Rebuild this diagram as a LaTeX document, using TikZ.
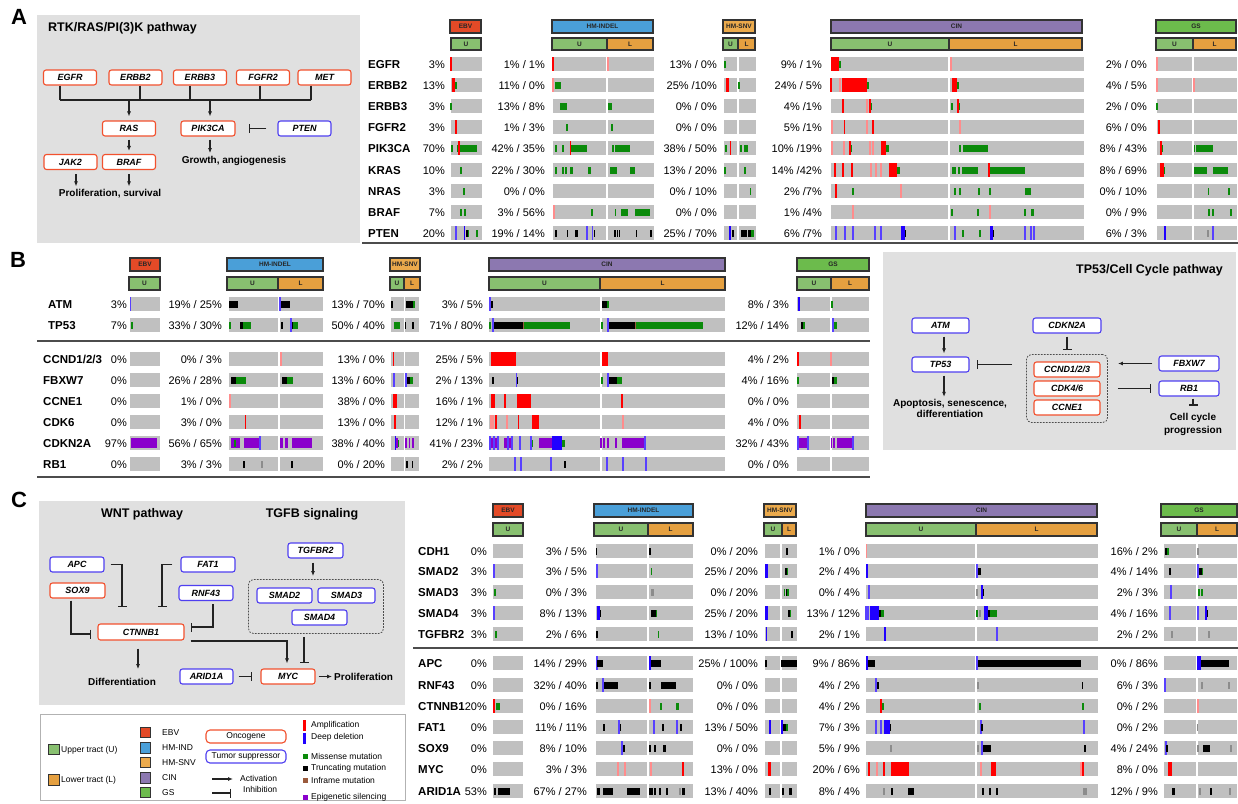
\documentclass[tikz,border=0pt]{standalone}
\usepackage{fontspec}
\setmainfont{Liberation Sans}
\usetikzlibrary{arrows.meta,fit}
\definecolor{graybg}{HTML}{E0E0E0}
\definecolor{barc}{HTML}{C0C0C0}
\definecolor{cebv}{HTML}{E34A27}
\definecolor{cind}{HTML}{4A9FD8}
\definecolor{csnv}{HTML}{EBAA4C}
\definecolor{ccin}{HTML}{8C78B0}
\definecolor{cgs}{HTML}{6CBB4C}
\definecolor{cU}{HTML}{88C070}
\definecolor{cL}{HTML}{E5A040}
\definecolor{oncc}{HTML}{F2512E}
\definecolor{supc}{HTML}{4F3FF0}
\definecolor{mred}{HTML}{FF0000}
\definecolor{mblue}{HTML}{2000FF}
\definecolor{mgreen}{HTML}{0A8A0A}
\definecolor{mpurple}{HTML}{8A00CC}
\definecolor{mbrown}{HTML}{9B5A3C}
\definecolor{linec}{HTML}{222222}
\definecolor{hdrl}{HTML}{333333}
\newcommand\fGene{\fontsize{11.5}{13}\selectfont\bfseries}
\newcommand\fPct{\fontsize{11}{13}\selectfont}
\newcommand\fBox{\fontsize{9}{10}\selectfont\bfseries\itshape}
\newcommand\fTitle{\fontsize{12.5}{14}\selectfont\bfseries}
\newcommand\fOut{\fontsize{10}{11.5}\selectfont\bfseries}
\newcommand\fHdr{\fontsize{6.5}{7}\selectfont\bfseries}
\newcommand\fLeg{\fontsize{8.5}{10}\selectfont}
\newcommand\fLet{\fontsize{22}{24}\selectfont\bfseries}
% bars and marks
\newcommand\gb[3]{\fill[barc] (#1,#3-7) rectangle (#2,#3+7);}
\newcommand\xR[3]{\fill[mred] (#1,#3-7) rectangle (#2,#3+7);}
\newcommand\xB[3]{\fill[mblue] (#1,#3-7) rectangle (#2,#3+7);}
\newcommand\xG[3]{\fill[mgreen] (#1,#3-3.5) rectangle (#2,#3+3.5);}
\newcommand\xK[3]{\fill[black] (#1,#3-3.5) rectangle (#2,#3+3.5);}
\newcommand\xN[3]{\fill[mbrown] (#1,#3-3.5) rectangle (#2,#3+3.5);}
\newcommand\xP[3]{\fill[mpurple] (#1,#3-5) rectangle (#2,#3+5);}
\newcommand\yR[2]{\fill[mred] (#1-0.7,#2-7) rectangle (#1+0.7,#2+7);}
\newcommand\yRf[2]{\fill[mred!45] (#1-0.7,#2-7) rectangle (#1+0.7,#2+7);}
\newcommand\yB[2]{\fill[mblue!75] (#1-0.6,#2-7) rectangle (#1+0.6,#2+7);}
\newcommand\yG[2]{\fill[mgreen] (#1-0.7,#2-3.5) rectangle (#1+0.7,#2+3.5);}
\newcommand\yK[2]{\fill[black] (#1-0.7,#2-3.5) rectangle (#1+0.7,#2+3.5);}
\newcommand\yP[2]{\fill[mpurple] (#1-0.8,#2-5) rectangle (#1+0.8,#2+5);}
\newcommand\yY[2]{\fill[gray!90] (#1-0.6,#2-3.5) rectangle (#1+0.6,#2+3.5);}
\newcommand\hdr[7]{\draw[hdrline, fill=#5] (#1,#3) rectangle (#2,#4); \node[hdrtxt] (#7) at ({(#1+#2)/2},{(#3+#4)/2}) {#6};}
\newcommand\rowA[7]{%
\node[gene] (gA#1) at (368,#1) {#2};
\node[pct] (eA#1) at (445,#1) {#3};
\node[pct] (iA#1) at (545,#1) {#4};
\node[pct] (sA#1) at (717,#1) {#5};
\node[pct] (cA#1) at (822,#1) {#6};
\node[pct] (qA#1) at (1147,#1) {#7};
\gb{451}{482}{#1}\gb{553}{606}{#1}\gb{608}{654}{#1}\gb{724}{737}{#1}\gb{739}{756}{#1}\gb{831}{948}{#1}\gb{950}{1084}{#1}\gb{1157}{1192}{#1}\gb{1194}{1237}{#1}}
\newcommand\rowB[8]{%
\node[gene] (gB#2) at (#1,#2) {#3};
\node[pct] (eB#2) at (127,#2) {#4};
\node[pct] (iB#2) at (222,#2) {#5};
\node[pct] (sB#2) at (385,#2) {#6};
\node[pct] (cB#2) at (483,#2) {#7};
\node[pct] (qB#2) at (789,#2) {#8};
\gb{130}{160}{#2}\gb{229}{278}{#2}\gb{280}{323}{#2}\gb{391}{404}{#2}\gb{405}{419}{#2}\gb{489}{600}{#2}\gb{602}{725}{#2}\gb{797}{830}{#2}\gb{832}{869}{#2}}
\newcommand\rowC[7]{%
\node[gene] (gC#1) at (418,#1) {#2};
\node[pct] (eC#1) at (487,#1) {#3};
\node[pct] (iC#1) at (587,#1) {#4};
\node[pct] (sC#1) at (758,#1) {#5};
\node[pct] (cC#1) at (860,#1) {#6};
\node[pct] (qC#1) at (1158,#1) {#7};
\gb{493}{523}{#1}\gb{596}{647}{#1}\gb{649}{693}{#1}\gb{765}{780}{#1}\gb{782}{797}{#1}\gb{866}{975}{#1}\gb{977}{1098}{#1}\gb{1164}{1196}{#1}\gb{1198}{1237}{#1}}
\tikzset{
 gene/.style={font=\fGene, anchor=west, inner sep=0pt, text height=8pt, text depth=0pt},
 pct/.style={font=\fPct, anchor=east, inner sep=0pt, text height=8pt, text depth=0pt},
 hdrline/.style={draw=hdrl, line width=1.1pt},
 hdrtxt/.style={font=\fHdr, text=black!85, inner sep=0pt},
 onc/.style={draw=oncc, line width=1.1pt, rounded corners=2.5pt, fill=white, minimum width=53pt, minimum height=15pt, inner sep=0pt, font=\fBox},
 sup/.style={onc, draw=supc},
 outt/.style={font=\fOut, inner sep=0pt},
 ln/.style={draw=linec, line width=1.1pt},
 arr/.style={ln, -{Latex[length=5pt,width=4pt]}},
 inh/.style={ln, -{Bar[width=9pt,line width=1.1pt]}},
 dbox/.style={draw=black!70, dash pattern=on 1.6pt off 1.4pt, rounded corners=5pt, line width=0.8pt, inner sep=7pt},
 sepl/.style={draw=black!70, line width=1.4pt},
 swatch/.style={draw=black!80, line width=0.8pt, minimum size=10.5pt, inner sep=0pt},
 legt/.style={font=\fLeg, anchor=west, inner sep=0pt},
 lgbox/.style={line width=1.1pt, rounded corners=4pt, minimum width=80pt, minimum height=13pt, inner sep=0pt, font=\fLeg}
}
\begin{document}
\begin{tikzpicture}[x=1pt,y=-1pt]
\useasboundingbox (0,0) rectangle (1238,803);
\fill[white] (0,0) rectangle (1238,803);
% ---------- letters
\node[font=\fLet] (lA) at (19,17) {A};
\node[font=\fLet] (lB) at (18,260) {B};
\node[font=\fLet] (lC) at (19,500) {C};
% ---------- Panel A pathway
\fill[graybg] (37,15) rectangle (360,243);
\node[anchor=west, font=\fTitle, inner sep=0pt] (titleA) at (48,28) {RTK/RAS/PI(3)K pathway};
\node[onc] (egfr) at (70,77.5) {EGFR};
\node[onc] (erbb2) at (135.5,77.5) {ERBB2};
\node[onc] (erbb3) at (200,77.5) {ERBB3};
\node[onc] (fgfr2) at (263,77.5) {FGFR2};
\node[onc] (met) at (324.5,77.5) {MET};
\node[onc] (ras) at (129,128.5) {RAS};
\node[onc, minimum width=54pt] (pik3ca) at (208,128.5) {PIK3CA};
\node[sup] (pten) at (304.5,128.5) {PTEN};
\node[onc] (jak2) at (70.5,162) {JAK2};
\node[onc] (braf) at (129,162) {BRAF};
\node[outt] (prolA) at (110,194) {Proliferation, survival};
\node[outt] (growA) at (234,161) {Growth, angiogenesis};
\coordinate (busL) at (60,100);
\coordinate (busR) at (311,100);
\draw[ln] (busL) -- (busR);
\draw[ln] ([xshift=-10pt]egfr.south) -- ([xshift=-10pt]egfr.south |- busL);
\draw[ln] ([xshift=4.5pt]erbb2.south) -- ([xshift=4.5pt]erbb2.south |- busL);
\draw[ln] ([xshift=-10pt]erbb3.south) -- ([xshift=-10pt]erbb3.south |- busL);
\draw[ln] ([xshift=-3pt]fgfr2.south) -- ([xshift=-3pt]fgfr2.south |- busL);
\draw[ln] ([xshift=-13.5pt]met.south) -- ([xshift=-13.5pt]met.south |- busL);
\draw[arr] (ras.north |- busL) -- ([yshift=4pt]ras.north);
\draw[arr] ([xshift=2pt]pik3ca.north |- busL) -- ([xshift=2pt,yshift=4pt]pik3ca.north);
\draw[inh] ([xshift=-11pt]pten.west) -- ([xshift=13pt]pik3ca.east);
\draw[arr] ([yshift=-3pt]ras.south) -- ([yshift=3pt]braf.north);
\draw[arr, shorten >=3pt] ([xshift=5.5pt,yshift=-4pt]jak2.south) -- ([xshift=5.5pt]jak2.south |- prolA.north);
\draw[arr, shorten >=3pt] ([yshift=-4pt]braf.south) -- (braf.south |- prolA.north);
\draw[arr, shorten >=3pt] ([xshift=2pt,yshift=-3pt]pik3ca.south) -- ([xshift=2pt]pik3ca.south |- growA.north);
% ---------- Panel A heatmap
\hdr{450}{481}{20}{33}{cebv}{EBV}{hAe}
\hdr{451}{481}{38}{50}{cU}{U}{hAeU}
\hdr{552}{653}{20}{33}{cind}{HM-INDEL}{hAi}
\hdr{552}{607}{38}{50}{cU}{U}{hAiU}
\hdr{607}{653}{38}{50}{cL}{L}{hAiL}
\hdr{723}{755}{20}{33}{csnv}{HM-SNV}{hAs}
\hdr{723}{738}{38}{50}{cU}{U}{hAsU}
\hdr{738}{755}{38}{50}{cL}{L}{hAsL}
\hdr{831}{1082}{20}{33}{ccin}{CIN}{hAc}
\hdr{831}{949}{38}{50}{cU}{U}{hAcU}
\hdr{949}{1082}{38}{50}{cL}{L}{hAcL}
\hdr{1156}{1236}{20}{33}{cgs}{GS}{hAg}
\hdr{1156}{1193}{38}{50}{cU}{U}{hAgU}
\hdr{1193}{1236}{38}{50}{cL}{L}{hAgL}
\rowA{64}{EGFR}{3\%}{1\% / 1\%}{13\% / 0\%}{9\% / 1\%}{2\% / 0\%}
\rowA{85}{ERBB2}{13\%}{11\% / 0\%}{25\% /10\%}{24\% / 5\%}{4\% / 5\%}
\rowA{106}{ERBB3}{3\%}{13\% / 8\%}{0\% / 0\%}{4\% /1\%}{2\% / 0\%}
\rowA{127}{FGFR2}{3\%}{1\% / 3\%}{0\% / 0\%}{5\% /1\%}{6\% / 0\%}
\rowA{148}{PIK3CA}{70\%}{42\% / 35\%}{38\% / 50\%}{10\% /19\%}{8\% / 43\%}
\rowA{170}{KRAS}{10\%}{22\% / 30\%}{13\% / 20\%}{14\% /42\%}{8\% / 69\%}
\rowA{191}{NRAS}{3\%}{0\% / 0\%}{0\% / 10\%}{2\% /7\%}{0\% / 10\%}
\rowA{212}{BRAF}{7\%}{3\% / 56\%}{0\% / 0\%}{1\% /4\%}{0\% / 9\%}
\rowA{233}{PTEN}{20\%}{19\% / 14\%}{25\% / 70\%}{6\% /7\%}{6\% / 3\%}
% marks A
\yR{451}{64}\yR{553}{64}\yRf{608}{64}\yG{725}{64}\xR{831}{839}{64}\xG{839}{841}{64}\yRf{951}{64}\yRf{1157}{64}
\xR{452}{455}{85}\xG{455}{457}{85}\yRf{553}{85}\xG{555}{561}{85}\xR{726}{729}{85}\yG{739}{85}\yR{831}{85}\yRf{840}{85}\xR{842}{867}{85}\xG{867}{869}{85}\xR{952}{957}{85}\xG{957}{958.5}{85}\yRf{1157}{85}\yRf{1194}{85}
\yG{451}{106}\xG{560}{567}{106}\xG{608}{612}{106}\xR{842}{844}{106}\yRf{867}{106}\yR{870}{106}\yG{871.5}{106}\yG{952}{106}\yR{958}{106}\yG{959.5}{106}\yG{1157}{106}
\yR{456}{127}\yG{567}{127}\yG{612}{127}\yRf{832}{127}\xR{843.5}{845}{127}\yRf{867}{127}\xR{872}{874}{127}\yRf{960}{127}\xR{1158}{1160}{127}
\yG{452}{148}\xG{457}{477}{148}\yR{459}{148}\yG{556}{148}\yG{563}{148}\xG{570}{587}{148}\xR{569.5}{571}{148}\yG{613}{148}\xG{615}{630}{148}\xG{725}{727}{148}\xR{729.5}{731}{148}\xG{740}{741.5}{148}\xG{744}{748}{148}\yRf{832}{148}\yRf{844}{148}\yR{850}{148}\yG{851.5}{148}\yRf{870}{148}\yRf{873}{148}\xR{881}{886}{148}\xG{886}{889}{148}\yG{960}{148}\xG{963}{988}{148}\yR{1161}{148}\yG{1162.5}{148}\yG{1194.5}{148}\xG{1196}{1213}{148}
\xG{460}{462}{170}\yG{556}{170}\yG{563}{170}\yG{566}{170}\xG{570}{573}{170}\xG{588}{591}{170}\xG{610}{617}{170}\xG{630}{635}{170}\yG{725}{170}\xG{744}{746}{170}\yR{835}{170}\xR{842}{844}{170}\yR{852}{170}\yRf{871}{170}\yRf{876}{170}\yRf{881}{170}\xR{889}{897}{170}\xG{897}{900}{170}\yG{953}{170}\yG{955}{170}\yG{959}{170}\xG{962}{978}{170}\xG{990}{1025}{170}\xR{988}{990}{170}\yR{1161}{170}\yR{1163}{170}\yG{1164.5}{170}\xG{1194}{1207}{170}\xG{1213}{1228}{170}
\yG{464}{191}\xG{749.5}{751}{191}\yR{836}{191}\yG{853}{191}\yRf{901}{191}\yG{955}{191}\yG{960}{191}\xG{978}{979.5}{191}\yG{990}{191}\xG{1025}{1031}{191}\xG{1207.5}{1209}{191}\xG{1228}{1230}{191}
\yG{461}{212}\yG{465}{212}\yRf{554}{212}\yG{592}{212}\xG{614.5}{616}{212}\xG{621}{628}{212}\xG{635}{650}{212}\yRf{853}{212}\yG{952}{212}\yG{978}{212}\yRf{990}{212}\yG{1025}{212}\xG{1031}{1034}{212}\yG{1209}{212}\yG{1213}{212}\yG{1231}{212}
\yB{456}{233}\xB{463.5}{465}{233}\xK{466}{468}{233}\xG{468}{469}{233}\yG{477}{233}\yK{556}{233}\xK{566.5}{568}{233}\xK{575}{578}{233}\yB{587}{233}\yB{592.5}{233}\yK{594.5}{233}\xK{614}{616}{233}\xK{617}{618}{233}\xK{619}{620}{233}\xK{636}{637}{233}\xK{650}{651.5}{233}\xB{729}{731}{233}\yK{733}{233}\xK{741}{747}{233}\xK{748}{751}{233}\xG{751}{754}{233}\yB{836}{233}\yB{845}{233}\yB{853}{233}\yB{875}{233}\yB{881}{233}\xB{901}{905}{233}\yK{905.5}{233}\yB{955}{233}\yG{963}{233}\yG{980}{233}\xB{990}{993}{233}\yK{993.5}{233}\yB{1025}{233}\yB{1031}{233}\yB{1034}{233}\xB{1164}{1166}{233}\yY{1208}{233}\yB{1213}{233}
\draw[sepl] (362,243) -- (1238,243);
% ---------- Panel B heatmap
\hdr{130}{160}{258}{271}{cebv}{EBV}{hBe}
\hdr{129}{160}{277}{290}{cU}{U}{hBeU}
\hdr{227}{323}{258}{271}{cind}{HM-INDEL}{hBi}
\hdr{227}{278}{277}{290}{cU}{U}{hBiU}
\hdr{278}{323}{277}{290}{cL}{L}{hBiL}
\hdr{390}{420}{258}{271}{csnv}{HM-SNV}{hBs}
\hdr{390}{404}{277}{290}{cU}{U}{hBsU}
\hdr{404}{420}{277}{290}{cL}{L}{hBsL}
\hdr{489}{725}{258}{271}{ccin}{CIN}{hBc}
\hdr{489}{600}{277}{290}{cU}{U}{hBcU}
\hdr{600}{725}{277}{290}{cL}{L}{hBcL}
\hdr{797}{869}{258}{271}{cgs}{GS}{hBg}
\hdr{797}{831}{277}{290}{cU}{U}{hBgU}
\hdr{831}{869}{277}{290}{cL}{L}{hBgL}
\rowB{48}{304}{ATM}{3\%}{19\% / 25\%}{13\% / 70\%}{3\% / 5\%}{8\% / 3\%}
\rowB{48}{325}{TP53}{7\%}{33\% / 30\%}{50\% / 40\%}{71\% / 80\%}{12\% / 14\%}
\rowB{43}{359}{CCND1/2/3}{0\%}{0\% / 3\%}{13\% / 0\%}{25\% / 5\%}{4\% / 2\%}
\rowB{43}{380}{FBXW7}{0\%}{26\% / 28\%}{13\% / 60\%}{2\% / 13\%}{4\% / 16\%}
\rowB{43}{401}{CCNE1}{0\%}{1\% / 0\%}{38\% / 0\%}{16\% / 1\%}{0\% / 0\%}
\rowB{43}{422}{CDK6}{0\%}{3\% / 0\%}{13\% / 0\%}{12\% / 1\%}{4\% / 0\%}
\rowB{43}{443}{CDKN2A}{97\%}{56\% / 65\%}{38\% / 40\%}{41\% / 23\%}{32\% / 43\%}
\rowB{43}{464}{RB1}{0\%}{3\% / 3\%}{0\% / 20\%}{2\% / 2\%}{0\% / 0\%}
% marks B
\yB{130.5}{304}\xK{229}{238}{304}\yB{280}{304}\xK{281}{290}{304}\yK{392}{304}\xK{406}{413}{304}\yG{414}{304}\yB{490}{304}\xK{491}{493}{304}\xK{602}{607}{304}\xG{607}{608.5}{304}\xB{798}{800}{304}\yG{832}{304}
\xG{131}{133}{325}\yG{230}{325}\xK{240}{243}{325}\xG{243}{251}{325}\xK{281}{283}{325}\xG{293}{298}{325}\yB{291}{325}\xK{291.5}{293}{325}\xG{394}{400}{325}\xK{404.5}{406}{325}\yK{413}{325}\yG{490}{325}\xK{493}{523}{325}\xN{523}{524}{325}\xG{524}{570}{325}\yB{493}{325}\yG{602}{325}\xK{608}{635}{325}\xN{635}{636}{325}\xG{636}{703}{325}\yB{608}{325}\xK{801}{803}{325}\xG{803}{805}{325}\yB{833}{325}\xG{833.5}{837}{325}
\yRf{281}{359}\xR{392.5}{394}{359}\xR{491}{516}{359}\xR{602}{608}{359}\xR{797}{798.5}{359}\yRf{831}{359}
\xK{231}{236}{380}\xG{236}{246}{380}\xK{282}{287}{380}\xG{287}{293}{380}\yB{394}{380}\yB{406}{380}\xK{407}{410}{380}\xG{410}{413}{380}\yK{493}{380}\yB{516.5}{380}\yK{517.5}{380}\yG{602}{380}\xK{608}{617}{380}\xG{617}{622}{380}\yB{608}{380}\yG{798}{380}\xK{832}{834}{380}\xG{834}{837}{380}
\yRf{230}{401}\xR{393}{397}{401}\yR{492}{401}\yR{494}{401}\xR{504}{506}{401}\xR{517}{531}{401}\yR{622}{401}
\xR{244.5}{246}{422}\xR{394}{395.5}{422}\yRf{491}{422}\yRf{493}{422}\xR{495}{497}{422}\yRf{507}{422}\xR{517.5}{519}{422}\xR{531.5}{539}{422}\yRf{623}{422}\xR{799}{800.5}{422}
\xP{131}{157}{443}\xP{231}{240}{443}\yG{235}{443}\xP{244}{260}{443}\yB{260}{443}\xP{280}{283}{443}\xP{285}{288}{443}\xP{292}{312}{443}\xB{394.5}{396}{443}\yP{397}{443}\yG{398.5}{443}\yP{406}{443}\yP{409.5}{443}\yP{413}{443}
\xP{490}{499}{443}\yB{490}{443}\yB{494}{443}\yB{498}{443}\xP{504}{512}{443}\yB{508}{443}\yB{512}{443}\yB{520}{443}\yB{531}{443}\yG{532.5}{443}\xP{539}{552}{443}\xB{552}{562}{443}\xG{562}{565}{443}\yP{601}{443}\yP{604}{443}\yP{608}{443}\yP{616}{443}\xP{622}{645}{443}\yB{645}{443}\yB{798}{443}\xP{799}{808}{443}\yB{808}{443}\yP{831.5}{443}\yP{834}{443}\xP{837}{853}{443}\yB{853}{443}
\yK{244}{464}\yY{262}{464}\yK{292}{464}\xK{406}{407.5}{464}\xK{411.5}{413}{464}\yB{515}{464}\yB{521}{464}\yB{551}{464}\yK{565}{464}\yB{607}{464}\yB{623}{464}\yB{646}{464}
\draw[sepl] (37,341) -- (870,341);
\draw[sepl] (37,477) -- (870,477);
% ---------- Panel B pathway
\fill[graybg] (883,252) rectangle (1236,450);
\node[anchor=east, font=\fTitle, inner sep=0pt] (titleB) at (1223,270) {TP53/Cell Cycle pathway};
\node[sup, minimum width=57pt] (atmN) at (940.5,325.5) {ATM};
\node[sup, minimum width=68pt] (cdkn2aN) at (1067,325.5) {CDKN2A};
\node[sup, minimum width=57pt] (tp53N) at (940.5,364.5) {TP53};
\node[onc, minimum width=66pt] (ccndN) at (1067,369.5) {CCND1/2/3};
\node[onc, minimum width=66pt] (cdk46N) at (1067,388.5) {CDK4/6};
\node[onc, minimum width=66pt] (ccne1N) at (1067,407.5) {CCNE1};
\node[sup, minimum width=60pt] (fbxw7N) at (1189,363.5) {FBXW7};
\node[sup, minimum width=60pt] (rb1N) at (1189,388.5) {RB1};
\node[dbox, fit=(ccndN)(ccne1N)] (ccbox) {};
\node[outt, align=center] (apopN) at (950,408.5) {Apoptosis, senescence,\\differentiation};
\node[outt, align=center, font=\fontsize{10}{13}\selectfont\bfseries] (ccprog) at (1193,424.5) {Cell cycle\\progression};
\draw[arr] ([xshift=3.5pt,yshift=-3pt]atmN.south) -- ([xshift=3.5pt,yshift=3pt]tp53N.north);
\draw[arr, shorten >=2pt] ([xshift=3.5pt,yshift=-3pt]tp53N.south) -- ([xshift=3.5pt]tp53N.south |- apopN.north);
\draw[inh] ([yshift=-3pt]cdkn2aN.south) -- ([yshift=4pt]ccbox.north);
\draw[inh] ([xshift=-14pt]ccbox.west |- tp53N.east) -- ([xshift=7pt]tp53N.east);
\draw[arr] ([xshift=-6pt]fbxw7N.west) -- ([xshift=10pt]fbxw7N.west -| ccbox.east);
\draw[inh] ([xshift=10pt]ccbox.east |- rb1N.west) -- ([xshift=-7pt]rb1N.west);
\draw[inh] ([xshift=4pt,yshift=-2pt]rb1N.south) -- ([xshift=4pt,yshift=-9pt]rb1N.south);
% ---------- Panel C pathway
\fill[graybg] (39,501) rectangle (405,705);
\node[font=\fTitle, inner sep=0pt] (wntT) at (142,514) {WNT pathway};
\node[font=\fTitle, inner sep=0pt] (tgfbT) at (312,514) {TGFB signaling};
\node[sup, minimum width=54pt] (apcN) at (77,564.5) {APC};
\node[onc, minimum width=55pt] (sox9N) at (77.5,590.5) {SOX9};
\node[sup, minimum width=54pt] (fat1N) at (208,564.5) {FAT1};
\node[sup, minimum width=54pt] (rnf43N) at (206,593) {RNF43};
\node[onc, minimum width=86pt, minimum height=16pt] (ctnnb1N) at (141,632) {CTNNB1};
\node[sup, minimum width=55pt] (tgfbr2N) at (315.5,550.5) {TGFBR2};
\node[sup, minimum width=55pt] (smad2N) at (284.5,595.5) {SMAD2};
\node[sup, minimum width=57pt] (smad3N) at (346.5,595.5) {SMAD3};
\node[sup, minimum width=55pt] (smad4N) at (319.5,617.5) {SMAD4};
\node[dbox, fit=(smad2N)(smad3N)(smad4N), inner sep=8pt] (smadbox) {};
\node[onc, minimum width=54pt] (mycN) at (288,676.5) {MYC};
\node[sup, minimum width=53pt] (arid1aN) at (206.5,676.5) {ARID1A};
\node[outt] (diffN) at (122,682) {Differentiation};
\node[outt, anchor=west] (prolC) at (334,676.5) {Proliferation};
\draw[inh] ([xshift=6pt]apcN.east) -| ([xshift=-19pt,yshift=16pt]ctnnb1N.north);
\draw[inh] ([xshift=-8pt]fat1N.west) -| ([xshift=21pt,yshift=16pt]ctnnb1N.north);
\draw[inh] ([xshift=-6.5pt,yshift=-2pt]sox9N.south) |- ([xshift=-6pt,yshift=-2pt]ctnnb1N.west);
\draw[inh] ([xshift=7pt,yshift=-3pt]rnf43N.south) |- ([xshift=6pt,yshift=5pt]ctnnb1N.east);
\draw[arr, shorten >=9pt] ([xshift=-3pt,yshift=-8pt]ctnnb1N.south) -- ([xshift=-3pt]ctnnb1N.south |- diffN.north);
\draw[arr] ([xshift=6pt,yshift=-9pt]ctnnb1N.east) -| ([xshift=-1pt,yshift=5pt]mycN.north);
\draw[arr] ([xshift=-2.5pt,yshift=-4pt]tgfbr2N.south) -- ([xshift=-2.5pt,yshift=3pt]tgfbr2N.south |- smadbox.north);
\draw[inh] ([xshift=16pt]mycN.north |- smadbox.south) ++(0,3) -- ([xshift=16pt,yshift=5pt]mycN.north);
\draw[inh, shorten <=5pt, shorten >=8pt] (arid1aN.east) -- (mycN.west);
\draw[arr] ([xshift=3pt]mycN.east) -- ([xshift=-2pt]prolC.west);
% ---------- Panel C heatmap
\hdr{493}{523}{504}{517}{cebv}{EBV}{hCe}
\hdr{493}{523}{523}{536}{cU}{U}{hCeU}
\hdr{594}{693}{504}{517}{cind}{HM-INDEL}{hCi}
\hdr{594}{648}{523}{536}{cU}{U}{hCiU}
\hdr{648}{693}{523}{536}{cL}{L}{hCiL}
\hdr{764}{796}{504}{517}{csnv}{HM-SNV}{hCs}
\hdr{764}{782}{523}{536}{cU}{U}{hCsU}
\hdr{782}{796}{523}{536}{cL}{L}{hCsL}
\hdr{866}{1097}{504}{517}{ccin}{CIN}{hCc}
\hdr{866}{976}{523}{536}{cU}{U}{hCcU}
\hdr{976}{1097}{523}{536}{cL}{L}{hCcL}
\hdr{1161}{1237}{504}{517}{cgs}{GS}{hCg}
\hdr{1161}{1197}{523}{536}{cU}{U}{hCgU}
\hdr{1197}{1237}{523}{536}{cL}{L}{hCgL}
\rowC{551}{CDH1}{0\%}{3\% / 5\%}{0\% / 20\%}{1\% / 0\%}{16\% / 2\%}
\rowC{571}{SMAD2}{3\%}{3\% / 5\%}{25\% / 20\%}{2\% / 4\%}{4\% / 14\%}
\rowC{592}{SMAD3}{3\%}{0\% / 3\%}{0\% / 20\%}{0\% / 4\%}{2\% / 3\%}
\rowC{613}{SMAD4}{3\%}{8\% / 13\%}{25\% / 20\%}{13\% / 12\%}{4\% / 16\%}
\rowC{634}{TGFBR2}{3\%}{2\% / 6\%}{13\% / 10\%}{2\% / 1\%}{2\% / 2\%}
\rowC{663}{APC}{0\%}{14\% / 29\%}{25\% / 100\%}{9\% / 86\%}{0\% / 86\%}
\rowC{685}{RNF43}{0\%}{32\% / 40\%}{0\% / 0\%}{4\% / 2\%}{6\% / 3\%}
\rowC{706}{CTNNB1}{20\%}{0\% / 16\%}{0\% / 0\%}{4\% / 2\%}{0\% / 2\%}
\rowC{727}{FAT1}{0\%}{11\% / 11\%}{13\% / 50\%}{7\% / 3\%}{0\% / 2\%}
\rowC{748}{SOX9}{0\%}{8\% / 10\%}{0\% / 0\%}{5\% / 9\%}{4\% / 24\%}
\rowC{769}{MYC}{0\%}{3\% / 3\%}{13\% / 0\%}{20\% / 6\%}{8\% / 0\%}
\rowC{791}{ARID1A}{53\%}{67\% / 27\%}{13\% / 40\%}{8\% / 4\%}{12\% / 9\%}
% marks C
\yK{596.5}{551}\xK{649}{650.5}{551}\xK{786}{787.5}{551}\yRf{866.5}{551}\xK{1165}{1167}{551}\xG{1167}{1169}{551}\yY{1198}{551}
\yB{494}{571}\yB{597}{571}\xG{650.5}{652}{571}\xB{765}{768}{571}\xK{785}{786.5}{571}\xG{786.5}{788}{571}\xB{866}{868}{571}\yB{977}{571}\xK{978}{981}{571}\yK{1170}{571}\yB{1198}{571}\xK{1199}{1202}{571}\xG{1202}{1203}{571}
\yG{495}{592}\yY{652}{592}\yY{653.5}{592}\yG{784.5}{592}\yK{786.5}{592}\yG{788}{592}\yB{869}{592}\yY{977}{592}\xB{981}{983}{592}\yK{983.5}{592}\yB{1171}{592}\yG{1199}{592}\yG{1202}{592}
\yB{494}{613}\xB{597}{599.5}{613}\xK{599.5}{601}{613}\xK{651}{656}{613}\xG{656}{657}{613}\xB{765}{768}{613}\xK{788}{790}{613}\xG{790}{791}{613}\yB{866}{613}\yB{868}{613}\xB{870}{879}{613}\xK{879}{881}{613}\xG{881}{884}{613}\yG{977}{613}\yY{980}{613}\xB{984}{988}{613}\xK{988}{990}{613}\xG{990}{997}{613}\yB{1170}{613}\yB{1198}{613}\xB{1205}{1206.5}{613}\xK{1206.5}{1208}{613}
\yG{496}{634}\yK{597}{634}\xG{657.5}{659}{634}\xB{765.5}{767}{634}\yK{792}{634}\xB{884}{886}{634}\yB{997}{634}\yY{1172}{634}\yY{1209}{634}
\yB{597}{663}\xK{597}{603}{663}\xB{649}{651}{663}\xK{651}{661}{663}\xK{765}{767}{663}\xK{781}{797}{663}\xB{866}{868}{663}\xK{868}{875}{663}\yB{977}{663}\xK{978}{1081}{663}\xB{1197}{1201}{663}\xK{1201}{1229}{663}
\yK{597}{685}\yB{603}{685}\xK{603.5}{618}{685}\yK{650}{685}\xK{661}{676}{685}\yB{876}{685}\xK{877}{879}{685}\yY{978}{685}\xK{1081.5}{1083}{685}\yB{1165}{685}\yY{1202}{685}\yY{1229}{685}
\yR{494}{706}\xG{496}{500}{706}\yRf{650}{706}\yG{661}{706}\xG{676}{679}{706}\xR{880}{881.5}{706}\xG{881.5}{884}{706}\yG{980}{706}\yG{1083}{706}\yRf{1198}{706}
\yK{604}{727}\yB{619}{727}\xK{619.5}{621}{727}\yB{654}{727}\yK{663}{727}\yB{677}{727}\yK{681}{727}\xB{769}{770.5}{727}\xB{781}{782.5}{727}\xK{782.5}{786}{727}\xG{786}{787.5}{727}\yB{876}{727}\yB{881}{727}\xB{884}{890}{727}\yK{890.5}{727}\yB{981}{727}\yK{982}{727}\yB{1084}{727}\yY{1197.5}{727}
\yB{622}{748}\xK{622.5}{625}{748}\yK{650}{748}\yK{655}{748}\xK{663}{666}{748}\yY{891}{748}\yY{978}{748}\yB{982}{748}\xK{983}{991}{748}\yK{1085}{748}\yB{1166}{748}\yK{1167}{748}\yY{1198}{748}\xK{1203}{1210}{748}\yY{1231}{748}
\yRf{618}{769}\yRf{625}{769}\yRf{651}{769}\yR{683}{769}\xR{768}{770.5}{769}\yR{869}{769}\yRf{877}{769}\yR{884}{769}\xR{891}{909}{769}\yRf{981}{769}\xR{991}{996}{769}\yRf{1081}{769}\yR{1083}{769}\xR{1168}{1172}{769}
\yK{495}{791}\xK{498}{510}{791}\xK{597}{600}{791}\xK{603}{613}{791}\xK{627}{640}{791}\yK{650}{791}\yK{652}{791}\yK{655}{791}\yK{660}{791}\yK{667}{791}\yY{680}{791}\xK{681.5}{685}{791}\yK{770}{791}\yK{783}{791}\xK{789}{792}{791}\yY{884}{791}\yK{892}{791}\xK{908}{914}{791}\yK{983}{791}\yK{990}{791}\yK{997}{791}\yY{1084}{791}\yY{1086}{791}\xK{1172}{1175}{791}\yY{1200}{791}\yK{1211}{791}\yY{1230}{791}
\draw[sepl] (413,648) -- (1238,648);
% ---------- Legend
\draw[draw=gray!60, line width=0.8pt] (40,714) rectangle (405,800);
\node[swatch, fill=cU] (lgU) at (54,749.5) {};
\node[legt] (lgUt) at (61,750) {Upper tract (U)};
\node[swatch, fill=cL] (lgL) at (54,780) {};
\node[legt] (lgLt) at (61,780) {Lower tract (L)};
\node[swatch, fill=cebv] (lg1) at (145.5,732.5) {};
\node[swatch, fill=cind] (lg2) at (145.5,748) {};
\node[swatch, fill=csnv] (lg3) at (145.5,762.5) {};
\node[swatch, fill=ccin] (lg4) at (145.5,778) {};
\node[swatch, fill=cgs] (lg5) at (145.5,792.5) {};
\node[legt] (lg1t) at (162,733) {EBV};
\node[legt] (lg2t) at (162,748) {HM-IND};
\node[legt] (lg3t) at (162,763) {HM-SNV};
\node[legt] (lg4t) at (162,778) {CIN};
\node[legt] (lg5t) at (162,793) {GS};
\node[lgbox, draw=oncc] (lgOnc) at (246,736.5) {Oncogene};
\node[lgbox, draw=supc] (lgSup) at (246,756.5) {Tumor suppressor};
\coordinate (lgAs) at (212,779);
\coordinate (lgAe) at (233,779);
\draw[arr] (lgAs) -- (lgAe);
\node[legt] (lgAt) at (240,778) {Activation};
\coordinate (lgIs) at (212,793);
\coordinate (lgIe) at (231,793);
\draw[inh] (lgIs) -- (lgIe);
\node[legt] (lgIt) at (243,789) {Inhibition};
\fill[mred] (303,720) rectangle (306,731);
\node[legt] (lgAmp) at (311,725.5) {Amplification};
\fill[mblue] (303,733) rectangle (306,744);
\node[legt] (lgDel) at (311,737.5) {Deep deletion};
\fill[mgreen] (303,753.5) rectangle (308,758.5);
\node[legt] (lgMis) at (311,756) {Missense mutation};
\fill[black] (303,765.5) rectangle (308,770.5);
\node[legt] (lgTru) at (311,768) {Truncating mutation};
\fill[mbrown] (303,777.5) rectangle (308,782.5);
\node[legt] (lgInf) at (311,780) {Inframe mutation};
\fill[mpurple] (303,794.5) rectangle (308,799.5);
\node[legt] (lgEpi) at (311,797) {Epigenetic silencing};
\end{tikzpicture}
\end{document}
